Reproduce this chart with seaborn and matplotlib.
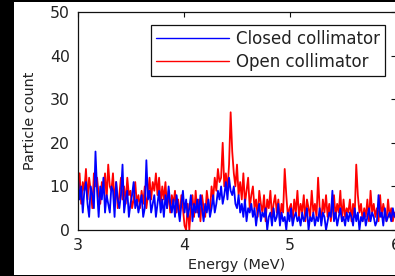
import numpy as np
import pandas as pd
import matplotlib
matplotlib.use("Agg")
import matplotlib.pyplot as plt
import seaborn as sns
from matplotlib.patches import Rectangle

# ---- data ----
e_start, e_step = 3.0, 0.015
closed_counts = [
    12, 7, 10, 4, 9, 11, 6, 3, 10, 8,
    5, 18, 9, 3, 10, 7, 12, 4, 8, 6,
    4, 10, 9, 3, 11, 7, 5, 8, 15, 4,
    7, 9, 3, 6, 8, 11, 5, 7, 4, 6,
    8, 3, 5, 16, 7, 9, 4, 6, 8, 3,
    6, 9, 4, 7, 3, 8, 5, 10, 6, 4,
    7, 3, 8, 5, 2, 6, 9, 4, 7, 3,
    5, 8, 2, 6, 4, 7, 3, 8, 5, 2,
    6, 4, 7, 3, 5, 8, 4, 6, 9, 7,
    10, 6, 8, 11, 7, 12, 9, 8, 10, 6,
    5, 8, 4, 6, 3, 7, 2, 5, 4, 6,
    3, 5, 1, 4, 6, 2, 4, 3, 5, 0,
    3, 4, 1, 5, 2, 3, 6, 1, 4, 2,
    3, 0, 4, 2, 5, 1, 3, 4, 2, 3,
    1, 4, 2, 3, 5, 0, 3, 2, 4, 1,
    3, 2, 5, 1, 4, 3, 0, 2, 4, 3,
    9, 2, 4, 1, 3, 5, 2, 3, 1, 4,
    2, 4, 3, 1, 5, 2, 4, 0, 3, 2,
    4, 1, 3, 5, 2, 4, 3, 1, 2, 8,
    3, 4, 1, 5, 2, 3, 4, 2, 5, 3,
    4,
]
open_counts = [
    8, 13, 6, 11, 9, 14, 7, 12, 9, 5,
    13, 10, 12, 8, 6, 11, 9, 13, 7, 15,
    10, 9, 13, 6, 11, 5, 8, 12, 7, 10,
    6, 12, 8, 9, 5, 7, 11, 6, 8, 5,
    9, 6, 10, 5, 8, 12, 7, 11, 9, 13,
    8, 12, 6, 10, 7, 11, 5, 9, 4, 8,
    6, 9, 4, 7, 3, 8, 5, 1, 0, 6,
    0, 5, 8, 3, 9, 4, 7, 2, 8, 5,
    3, 9, 6, 4, 10, 7, 12, 9, 14, 11,
    12, 20, 10, 13, 9, 15, 27, 18, 13, 10,
    15, 8, 11, 7, 13, 6, 9, 12, 5, 8,
    10, 5, 7, 3, 9, 6, 4, 8, 2, 7,
    5, 9, 3, 6, 8, 4, 7, 2, 6, 4,
    14, 8, 3, 5, 6, 2, 7, 4, 9, 3,
    6, 4, 8, 2, 7, 5, 3, 9, 4, 6,
    3, 12, 5, 2, 7, 4, 8, 3, 6, 2,
    5, 8, 3, 6, 4, 9, 2, 7, 3, 5,
    4, 7, 2, 6, 3, 15, 8, 4, 6, 2,
    5, 3, 7, 2, 9, 4, 6, 3, 5, 2,
    8, 3, 6, 4, 2, 7, 3, 5, 2, 4,
    3,
]
series_names = ["Closed collimator", "Open collimator"]
x_ticks = [3, 4, 5, 6]
y_ticks = [0, 10, 20, 30, 40, 50]

energy = e_start + e_step * np.arange(len(closed_counts))
df = pd.concat([
    pd.DataFrame({"Energy": energy, "Count": closed_counts, "Series": series_names[0]}),
    pd.DataFrame({"Energy": energy, "Count": open_counts, "Series": series_names[1]}),
])

sns.set_style("white")
plt.rcParams["font.family"] = ["DejaVu Sans"]
text_color = "#222222"

fig = plt.figure(figsize=(3.95, 2.76), dpi=100)
fig.patch.set_facecolor("white")
ax = fig.add_axes([78/395, 46/276, 318/395, 218/276])

palette = {series_names[0]: "#0000ff", series_names[1]: "#ff0000"}
sns.lineplot(data=df, x="Energy", y="Count", hue="Series",
             hue_order=[series_names[1], series_names[0]],
             palette=palette, estimator=None, linewidth=1.3, ax=ax,
             legend=True)

ax.set_xlim(3, 6)
ax.set_ylim(0, 50)
ax.set_xticks(x_ticks)
ax.set_yticks(y_ticks)
ax.set_xlabel("Energy (MeV)", fontsize=10.4, color=text_color, labelpad=3)
ax.set_ylabel("Particle count", fontsize=10.4, color=text_color, labelpad=9)
ax.tick_params(direction="in", length=3.5, width=0.8, top=True, right=True,
               labelsize=11.3, colors="#111111", labelcolor=text_color, pad=6)
for s in ax.spines.values():
    s.set_visible(True)
    s.set_color("#111111")
    s.set_linewidth(0.9)

handles, labels = ax.get_legend_handles_labels()
order = [labels.index(n) for n in series_names]
leg = ax.legend([handles[i] for i in order], [labels[i] for i in order],
                loc="upper right", bbox_to_anchor=(0.965, 0.94),
                borderaxespad=0, fontsize=12, frameon=True, fancybox=False,
                edgecolor="#111111", handlelength=4.4, handletextpad=0.4,
                borderpad=0.3, labelspacing=0.3, framealpha=1)
leg.get_frame().set_linewidth(0.9)
for h in leg.get_lines():
    h.set_linewidth(1.0)
for t in leg.get_texts():
    t.set_color(text_color)

# black border strips present in the reference image
fig.patches.append(Rectangle((0, 0), 14/395, 1, transform=fig.transFigure,
                             facecolor="black", edgecolor="none", zorder=10))
fig.patches.append(Rectangle((0, 1 - 2/276), 1, 2/276, transform=fig.transFigure,
                             facecolor="black", edgecolor="none", zorder=10))
fig.patches.append(Rectangle((0, 0), 1, 1.5/276, transform=fig.transFigure,
                             facecolor="black", edgecolor="none", zorder=10))

fig.savefig("out.png", dpi=100, facecolor="white")
